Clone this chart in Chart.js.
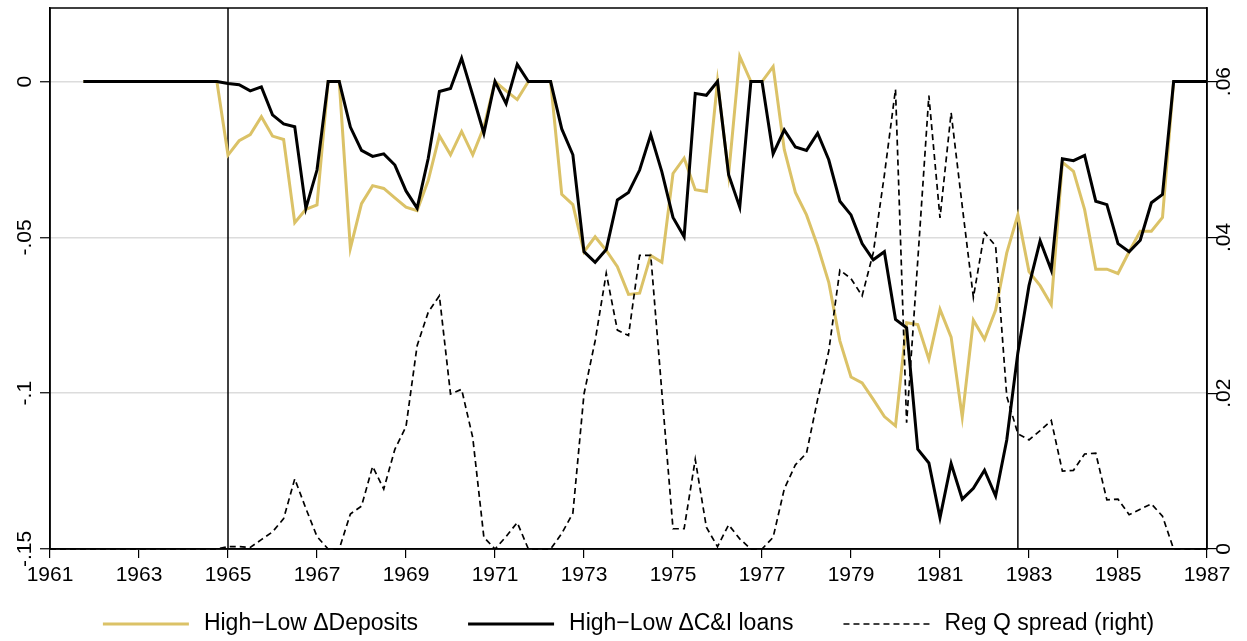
<!DOCTYPE html>
<html>
<head>
<meta charset="utf-8">
<script src="https://cdn.jsdelivr.net/npm/chart.js@4"></script>
<style>
  html, body { margin: 0; padding: 0; background: #fff; }
  #wrap { width: 1247px; height: 641px; }
</style>
</head>
<body>
<div id="wrap"><canvas id="chart" width="1247" height="641"></canvas></div>
<script>
// quarterly observations, first one is 1961Q1
const startYear = 1961;

const deposits = [
  null, null, null,
  0, 0, 0, 0, 0, 0, 0, 0, 0, 0, 0, 0, 0,
  -0.0236, -0.019, -0.017, -0.0113, -0.0175, -0.0186, -0.0453, -0.041, -0.0396,
  0, 0,
  -0.0535, -0.0392, -0.0334, -0.0343, -0.0373, -0.0403, -0.0414, -0.0317, -0.0174, -0.0235, -0.016, -0.0235, -0.0146,
  0, -0.003, -0.0058, 0, 0, 0,
  -0.0362, -0.0395, -0.0546, -0.0498, -0.0542, -0.0594, -0.0683, -0.0679, -0.0558, -0.058, -0.0295, -0.0246, -0.0347, -0.0353,
  0, -0.0299, 0.0081, 0, 0, 0.0048,
  -0.0218, -0.0356, -0.0428, -0.0528, -0.0644, -0.0832, -0.0948, -0.0967, -0.102, -0.1075, -0.1105,
  -0.0774, -0.078, -0.0891, -0.0731, -0.082, -0.1077, -0.0766, -0.0827, -0.0733, -0.055, -0.0428, -0.061, -0.0655, -0.0716,
  -0.0259, -0.0288, -0.0411, -0.0602, -0.0602, -0.0616, -0.0546, -0.048, -0.048, -0.0436,
  0, 0, 0, 0
];

const loans = [
  null, null, null,
  0, 0, 0, 0, 0, 0, 0, 0, 0, 0, 0, 0, 0,
  -0.0006, -0.001, -0.003, -0.0017, -0.0107, -0.0136, -0.0145, -0.0407, -0.0284,
  0, 0,
  -0.0146, -0.0221, -0.024, -0.0232, -0.0268, -0.0351, -0.0406, -0.0246, -0.0032, -0.0022, 0.0075, -0.0044, -0.0166,
  0, -0.0071, 0.0055, 0, 0, 0,
  -0.0152, -0.0235, -0.0546, -0.058, -0.0539, -0.038, -0.0356, -0.0284, -0.017, -0.029, -0.0436, -0.0498, -0.0038, -0.0044,
  0, -0.0299, -0.0403, 0, 0, -0.0232,
  -0.0155, -0.021, -0.0221, -0.0166, -0.0251, -0.0384, -0.0428, -0.052, -0.0572, -0.0546, -0.0763,
  -0.079, -0.118, -0.1224, -0.14, -0.1226, -0.134, -0.1305, -0.1247, -0.133, -0.115, -0.087, -0.0655, -0.0511, -0.0605,
  -0.0248, -0.0254, -0.0237, -0.0384, -0.0395, -0.052, -0.0546, -0.0509, -0.0389, -0.0362,
  0, 0, 0, 0
];

const regQ = [
  0, 0, 0, 0, 0, 0, 0, 0, 0, 0, 0, 0, 0, 0, 0, 0,
  0.0003, 0.0003, 0.0002, 0.0012, 0.0022, 0.0039, 0.009, 0.0052, 0.0016, 0, 0,
  0.0045, 0.0055, 0.0106, 0.0077, 0.0128, 0.0157, 0.0261, 0.0304, 0.0325, 0.0199, 0.0205, 0.0143, 0.0015,
  0, 0.0016, 0.0034, 0, 0, 0,
  0.002, 0.0046, 0.0199, 0.0267, 0.0354, 0.0281, 0.0274, 0.0377, 0.0377, 0.0201, 0.0026, 0.0026, 0.0115, 0.0028,
  0.0003, 0.0031, 0.0013, 0, 0, 0.0015,
  0.0077, 0.0108, 0.0123, 0.0192, 0.0254, 0.0358, 0.0347, 0.0325, 0.038, 0.048, 0.059,
  0.0162, 0.037, 0.0582, 0.0425, 0.056, 0.044, 0.0323, 0.0406, 0.0389, 0.0196, 0.0148, 0.014, 0.0152, 0.0165,
  0.01, 0.0101, 0.0122, 0.0123, 0.0063, 0.0064, 0.0044, 0.0051, 0.0058, 0.0042,
  0, 0, 0, 0
];

const yearTicks = [1961, 1963, 1965, 1967, 1969, 1971, 1973, 1975, 1977, 1979, 1981, 1983, 1985, 1987];
const leftTicks = [-0.15, -0.1, -0.05, 0];
const leftLabels = ['-.15', '-.1', '-.05', '0'];
const rightTicks = [0, 0.02, 0.04, 0.06];
const rightLabels = ['0', '.02', '.04', '.06'];
const eventDates = [1965, 1982.75];

const FONT = '"Liberation Sans", Arial, Helvetica, sans-serif';
const GOLD = '#dbc267';

const toPoints = arr => arr.map((v, i) => ({ x: startYear + i / 4, y: v }));

// vertical event lines, plot frame, rotated y labels, legend
const decorations = {
  id: 'decorations',
  beforeDatasetsDraw(chart) {
    const { ctx, chartArea, scales } = chart;
    ctx.save();
    ctx.strokeStyle = '#000';
    ctx.lineWidth = 1.5;
    eventDates.forEach(d => {
      const px = scales.x.getPixelForValue(d);
      ctx.beginPath();
      ctx.moveTo(px, chartArea.top);
      ctx.lineTo(px, chartArea.bottom);
      ctx.stroke();
    });
    ctx.strokeRect(chartArea.left, chartArea.top, chartArea.right - chartArea.left, chartArea.bottom - chartArea.top);
    ctx.restore();
  },
  afterDraw(chart) {
    const { ctx, chartArea, scales } = chart;
    ctx.save();
    ctx.fillStyle = '#000';
    ctx.font = '21px ' + FONT;
    ctx.textAlign = 'center';
    ctx.textBaseline = 'middle';
    const drawRotated = (txt, x, y) => {
      ctx.save();
      ctx.translate(x, y);
      ctx.rotate(-Math.PI / 2);
      ctx.fillText(txt, 0, 0);
      ctx.restore();
    };
    leftTicks.forEach((v, i) => drawRotated(leftLabels[i], chartArea.left - 25, scales.y.getPixelForValue(v)));
    rightTicks.forEach((v, i) => drawRotated(rightLabels[i], chartArea.right + 17, scales.y2.getPixelForValue(v)));

    // legend
    const lineLen = 86, textGap = 15, itemGap = 50, legendY = 624;
    ctx.font = '23px ' + FONT;
    ctx.textAlign = 'left';
    const items = chart.data.datasets.map(ds => ({ ds, w: lineLen + textGap + ctx.measureText(ds.label).width }));
    const total = items.reduce((s, it) => s + it.w, 0) + itemGap * (items.length - 1);
    let x = (chartArea.left + chartArea.right) / 2 - total / 2;
    items.forEach(it => {
      ctx.save();
      ctx.strokeStyle = it.ds.borderColor;
      ctx.lineWidth = it.ds.borderWidth;
      ctx.setLineDash(it.ds.borderDash || []);
      ctx.beginPath();
      ctx.moveTo(x, legendY);
      ctx.lineTo(x + lineLen, legendY);
      ctx.stroke();
      ctx.restore();
      ctx.fillText(it.ds.label, x + lineLen + textGap, legendY);
      x += it.w + itemGap;
    });
    ctx.restore();
  }
};

new Chart(document.getElementById('chart'), {
  type: 'line',
  data: {
    datasets: [
      {
        label: 'High\u2212Low \u0394Deposits',
        data: toPoints(deposits),
        borderColor: GOLD,
        borderWidth: 3,
        yAxisID: 'y',
        order: 3,
      },
      {
        label: 'High\u2212Low \u0394C&I loans',
        data: toPoints(loans),
        borderColor: '#000',
        borderWidth: 3,
        yAxisID: 'y',
        order: 2,
      },
      {
        label: 'Reg Q spread (right)',
        data: toPoints(regQ),
        borderColor: '#000',
        borderWidth: 1.7,
        borderDash: [6, 4],
        yAxisID: 'y2',
        order: 1,
        clip: false,
      },
    ],
  },
  options: {
    responsive: false,
    animation: false,
    devicePixelRatio: 1,
    layout: { padding: { top: 8, bottom: 52, left: 0, right: 0 } },
    elements: {
      point: { radius: 0 },
      line: { tension: 0, fill: false, borderJoinStyle: 'miter', borderCapStyle: 'butt' },
    },
    plugins: {
      legend: { display: false },
      tooltip: { enabled: false },
    },
    scales: {
      x: {
        type: 'linear',
        min: 1961,
        max: 1987,
        afterBuildTicks: s => { s.ticks = yearTicks.map(v => ({ value: v })); },
        afterFit: s => { s.height = 40; },
        ticks: {
          autoSkip: false,
          maxRotation: 0,
          padding: 5,
          color: '#000',
          font: { family: FONT, size: 21 },
          callback: v => String(v),
        },
        grid: { drawOnChartArea: false, color: '#000', tickLength: 9, lineWidth: 1.2 },
        border: { color: '#000', width: 1.5 },
      },
      y: {
        position: 'left',
        min: -0.15,
        max: 0.0236,
        afterBuildTicks: s => { s.ticks = leftTicks.map(v => ({ value: v })); },
        afterFit: s => { s.width = 50; },
        ticks: { display: false },
        grid: { color: '#dcdcdc', lineWidth: 1.5, tickColor: '#000', tickLength: 10, tickWidth: 1.2 },
        border: { color: '#000', width: 1.5 },
      },
      y2: {
        position: 'right',
        min: 0,
        max: 0.06944,
        afterBuildTicks: s => { s.ticks = rightTicks.map(v => ({ value: v })); },
        afterFit: s => { s.width = 40; },
        ticks: { display: false },
        grid: { drawOnChartArea: false, color: '#000', tickLength: 10, lineWidth: 1.2 },
        border: { color: '#000', width: 1.5 },
      },
    },
  },
  plugins: [decorations],
});
</script>
</body>
</html>
